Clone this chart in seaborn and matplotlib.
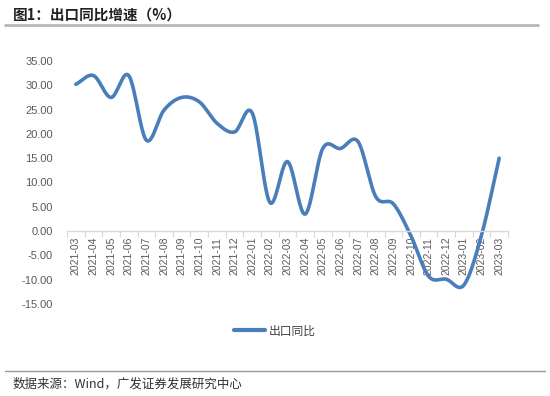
import numpy as np
import pandas as pd
import matplotlib
matplotlib.use("Agg")
import matplotlib.pyplot as plt
import seaborn as sns
from matplotlib.lines import Line2D

months = ["2021-03", "2021-04", "2021-05", "2021-06", "2021-07", "2021-08", "2021-09",
          "2021-10", "2021-11", "2021-12", "2022-01", "2022-02", "2022-03", "2022-04",
          "2022-05", "2022-06", "2022-07", "2022-08", "2022-09", "2022-10", "2022-11",
          "2022-12", "2023-01", "2023-02", "2023-03"]
export_yoy = [30.2, 32.0, 27.5, 32.0, 18.7, 24.9, 27.5, 26.6, 22.2, 20.4, 24.3, 5.9,
              14.3, 3.5, 17.0, 17.0, 18.4, 7.1, 5.6, -1.0, -9.3, -9.9, -11.1, -0.8, 15.0]
yticks = [-15, -10, -5, 0, 5, 10, 15, 20, 25, 30, 35]
series_name = "出口同比"
title = "图1：出口同比增速（%）"
source = "数据来源：Wind，广发证券发展研究中心"

sns.set_theme(style="white")
plt.rcParams['font.family'] = ['Liberation Sans', 'Noto Sans CJK SC', 'DejaVu Sans']
cjk = ['Noto Sans CJK SC', 'DejaVu Sans']

# Smoothed rendering (Catmull-Rom, like Excel's smoothed line)
def smooth(y, n=24):
    y = np.asarray(y, float)
    p = np.concatenate([[2 * y[0] - y[1]], y, [2 * y[-1] - y[-2]]])
    xs, ys = [], []
    for i in range(1, len(p) - 2):
        p0, p1, p2, p3 = p[i - 1], p[i], p[i + 1], p[i + 2]
        t = np.linspace(0, 1, n, endpoint=False)
        yy = 0.5 * ((2 * p1) + (-p0 + p2) * t + (2 * p0 - 5 * p1 + 4 * p2 - p3) * t ** 2
                    + (-p0 + 3 * p1 - 3 * p2 + p3) * t ** 3)
        xs.append(i - 1 + t)
        ys.append(yy)
    xs.append([len(y) - 1])
    ys.append([y[-1]])
    return np.concatenate(xs), np.concatenate(ys)

sx, sy = smooth(export_yoy)
df = pd.DataFrame({"x": sx, "y": sy})

fig = plt.figure(figsize=(5.5, 3.96), dpi=100)
ax = fig.add_axes([67 / 550, 1 - 304 / 396, 441 / 550, (304 - 61) / 396])
color = "#4a7ebb"
sns.lineplot(data=df, x="x", y="y", ax=ax, color=color, linewidth=2.6, legend=False,
             solid_capstyle="round")

for s in ["top", "right", "left"]:
    ax.spines[s].set_visible(False)
ax.spines["bottom"].set_position(("data", 0))
ax.spines["bottom"].set_color("#d9d9d9")
ax.spines["bottom"].set_linewidth(1.0)

ax.set_xlim(-0.5, len(months) - 0.5)
ax.set_ylim(-15, 35)
ax.set_yticks(yticks)
ax.set_yticklabels([f"{v:.2f}" for v in yticks], fontsize=8, color="#595959")
ax.set_xticks(range(len(months)))
ax.set_xticklabels(months, rotation=90, fontsize=7.5, color="#595959")
ax.set_xticks(np.arange(-0.5, len(months), 1), minor=True)
ax.tick_params(axis="x", which="major", length=0, pad=4, bottom=True)
ax.tick_params(axis="x", which="minor", length=4, color="#d9d9d9", width=0.8,
               direction="out", bottom=True)
ax.tick_params(axis="y", length=0, pad=10)
ax.set_xlabel("")
ax.set_ylabel("")

handle = Line2D([0], [0], color=color, lw=3)
leg = fig.legend([handle], [series_name], loc="center", bbox_to_anchor=(0.5, 1 - 331 / 396),
                 frameon=False, handlelength=2.6, handletextpad=0.3,
                 prop={"family": cjk, "size": 8.5})
for t in leg.get_texts():
    t.set_color("#404040")

fig.text(13 / 550, 1 - 15 / 396, title, fontsize=10.5, fontweight="bold", family=cjk,
         color="#222222", va="center", ha="left")
fig.add_artist(Line2D([5 / 550, 538 / 550], [1 - 25 / 396, 1 - 25 / 396], color="#b8b8b8", lw=2))
fig.add_artist(Line2D([5 / 550, 545 / 550], [1 - 371 / 396, 1 - 371 / 396], color="#999999", lw=1))
fig.text(13 / 550, 1 - 384 / 396, source, fontsize=9, family=cjk, color="#333333",
         va="center", ha="left")

fig.savefig("out.png", dpi=100)
